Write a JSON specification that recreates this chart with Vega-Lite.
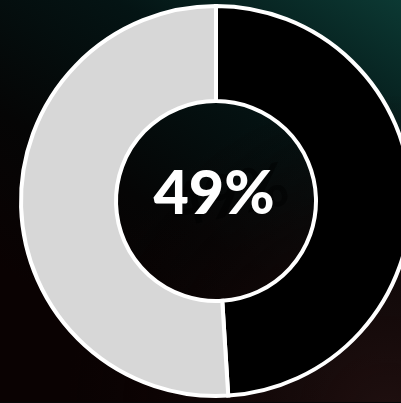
{
  "$schema": "https://vega.github.io/schema/vega-lite/v6.json",
  "autosize": {"type": "none"},
  "padding": {"left": 0, "top": 0, "right": -31, "bottom": 1},
  "width": 432,
  "height": 402,
  "background": "#050707",
  "view": {
    "stroke": null,
    "fill": {
      "gradient": "linear",
      "x1": 0.95, "y1": 0, "x2": 0.35, "y2": 0.9,
      "stops": [
        {"offset": 0, "color": "#0c3a34"},
        {"offset": 0.35, "color": "#041414"},
        {"offset": 0.7, "color": "#050505"},
        {"offset": 1, "color": "#0a0202"}
      ]
    }
  },
  "layer": [
    {
      "data": {"values": [{"bg": "glow"}]},
      "mark": {
        "type": "rect",
        "fill": {
          "gradient": "radial",
          "x1": 0.9, "y1": 1, "r1": 0,
          "x2": 0.9, "y2": 1, "r2": 0.75,
          "stops": [
            {"offset": 0, "color": "rgba(32,16,16,1)"},
            {"offset": 0.5, "color": "rgba(20,8,8,0.7)"},
            {"offset": 1, "color": "rgba(10,2,2,0)"}
          ]
        }
      },
      "encoding": {}
    },
    {
      "data": {"values": [
        {"category": "Yes", "value": 49, "order": 1},
        {"category": "No", "value": 51, "order": 2}
      ]},
      "mark": {"type": "arc", "radius": 195, "radius2": 100, "stroke": "#ffffff", "strokeWidth": 4},
      "encoding": {
        "theta": {"field": "value", "type": "quantitative", "stack": true},
        "order": {"field": "order", "type": "quantitative"},
        "color": {
          "field": "category", "type": "nominal",
          "scale": {"domain": ["Yes", "No"], "range": ["#000000", "#d7d7d7"]},
          "legend": null
        }
      }
    },
    {
      "data": {"values": [{"label": "49%"}]},
      "mark": {"type": "text", "font": "Lato", "fontWeight": "bold", "fontSize": 60, "color": "#000000", "opacity": 0.45, "angle": -12, "dx": 14, "dy": 0, "align": "center", "baseline": "middle"},
      "encoding": {"text": {"field": "label", "type": "nominal"}}
    },
    {
      "data": {"values": [{"label": "49%"}]},
      "mark": {"type": "text", "font": "Lato", "fontWeight": 900, "fontSize": 61, "color": "#ffffff", "dx": -2, "dy": -5, "align": "center", "baseline": "middle"},
      "encoding": {"text": {"field": "label", "type": "nominal"}}
    }
  ]
}
